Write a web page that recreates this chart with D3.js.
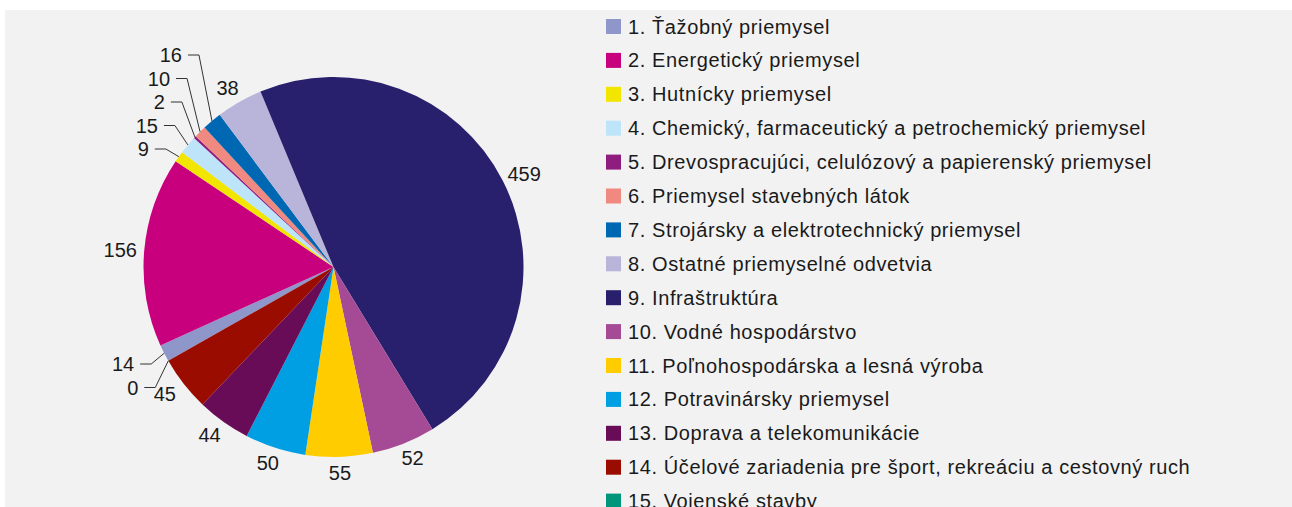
<!DOCTYPE html>
<html>
<head>
<meta charset="utf-8">
<script src="https://cdn.jsdelivr.net/npm/d3@7"></script>
<style>
  body { margin: 0; background: #fff; }
  svg { display: block; font-family: "Liberation Sans", Arial, sans-serif; }
</style>
</head>
<body>
<svg id="chart" width="1292" height="507"></svg>
<script>
// data
const categories = [
  "1. Ťažobný priemysel",
  "2. Energetický priemysel",
  "3. Hutnícky priemysel",
  "4. Chemický, farmaceutický a petrochemický priemysel",
  "5. Drevospracujúci, celulózový a papierenský priemysel",
  "6. Priemysel stavebných látok",
  "7. Strojársky a elektrotechnický priemysel",
  "8. Ostatné priemyselné odvetvia",
  "9. Infraštruktúra",
  "10. Vodné hospodárstvo",
  "11. Poľnohospodárska a lesná výroba",
  "12. Potravinársky priemysel",
  "13. Doprava a telekomunikácie",
  "14. Účelové zariadenia pre šport, rekreáciu a cestovný ruch",
  "15. Vojenské stavby"
];
const values = [14, 156, 9, 15, 2, 10, 16, 38, 459, 52, 55, 50, 44, 45, 0];
const colors = ["#8f96ca", "#c8007e", "#f2e500", "#bde4f8", "#8f1c7f", "#f08a81", "#0068b2",
                "#b9b4da", "#281f6d", "#a54b96", "#ffcc00", "#009fe3", "#680c58", "#9a0b00", "#00967a"];

const svg = d3.select("#chart");
const width = 1292, height = 507;

// panel
svg.append("rect")
  .attr("x", 5).attr("y", 10)
  .attr("width", width - 5).attr("height", height - 10)
  .attr("fill", "#f2f2f2");

var cx = 333.5, cy = 267, r = 190;
var rot = 240.4 * Math.PI / 180;

var pie = d3.pie().sort(null).value(function(d) { return d; })
  .startAngle(rot).endAngle(rot + 2 * Math.PI);
var arcs = pie(values);

var arc = d3.arc().innerRadius(0).outerRadius(r);

var g = svg.append("g").attr("transform", "translate(" + cx + "," + cy + ")");

g.selectAll("path.slice")
  .data(arcs)
  .enter().append("path")
  .attr("class", "slice")
  .attr("d", arc)
  .attr("fill", function(d, i) { return colors[i]; });

function midAngle(d) {
  var a = (d.startAngle + d.endAngle) / 2;
  return a % (2 * Math.PI);
}
function edge(d) {
  var a = midAngle(d);
  return [r * Math.sin(a), -r * Math.cos(a)];
}

// big slices get a plain label outside the pie (text is wider than tall,
// so the label ring is a little flatter vertically)
var big = arcs.filter(function(d) { return d.value >= 30; });
g.selectAll("text.big")
  .data(big)
  .enter().append("text")
  .attr("class", "big")
  .attr("x", function(d) { return 214 * Math.sin(midAngle(d)); })
  .attr("y", function(d) { return -206 * Math.cos(midAngle(d)); })
  .attr("text-anchor", "middle")
  .attr("dy", "0.35em")
  .attr("font-size", 20)
  .attr("fill", "#1a1a1a")
  .text(function(d) { return d.value; });

// small slices get callouts with a leader line
var small = arcs.filter(function(d) { return d.value < 30; });
var upper = small.filter(function(d) { return edge(d)[1] < 0; })
  .sort(function(a, b) { return midAngle(a) - midAngle(b); });
var lower = small.filter(function(d) { return edge(d)[1] >= 0; })
  .sort(function(a, b) { return midAngle(b) - midAngle(a); });

var rowStep = 23.5;
upper.forEach(function(d, k) { d.ly = -118 - k * rowStep; });
lower.forEach(function(d, k) { d.ly = 97 + k * rowStep; });

var callouts = g.selectAll("g.callout")
  .data(small)
  .enter().append("g")
  .attr("class", "callout");

callouts.append("polyline")
  .attr("points", function(d) {
    var e = edge(d);
    var ex = e[0] - 13;
    return [e, [ex, d.ly], [ex - 11, d.ly]].map(function(p) { return p.join(","); }).join(" ");
  })
  .attr("fill", "none")
  .attr("stroke", "#333")
  .attr("stroke-width", 1);

callouts.append("text")
  .attr("x", function(d) { return edge(d)[0] - 13 - 11 - 6; })
  .attr("y", function(d) { return d.ly; })
  .attr("text-anchor", "end")
  .attr("dy", "0.35em")
  .attr("font-size", 20)
  .attr("fill", "#1a1a1a")
  .text(function(d) { return d.value; });

// legend
var legend = svg.append("g").attr("transform", "translate(606,26.5)");
var item = legend.selectAll("g")
  .data(categories)
  .enter().append("g")
  .attr("transform", function(d, i) { return "translate(0," + (i * 33.9) + ")"; });

item.append("rect")
  .attr("x", 0).attr("y", -7.5)
  .attr("width", 15).attr("height", 15)
  .attr("fill", function(d, i) { return colors[i]; });

item.append("text")
  .attr("x", 22)
  .attr("dy", "0.35em")
  .attr("font-size", 20)
  .attr("letter-spacing", 0.6)
  .attr("fill", "#1a1a1a")
  .text(function(d) { return d; });
</script>
</body>
</html>
